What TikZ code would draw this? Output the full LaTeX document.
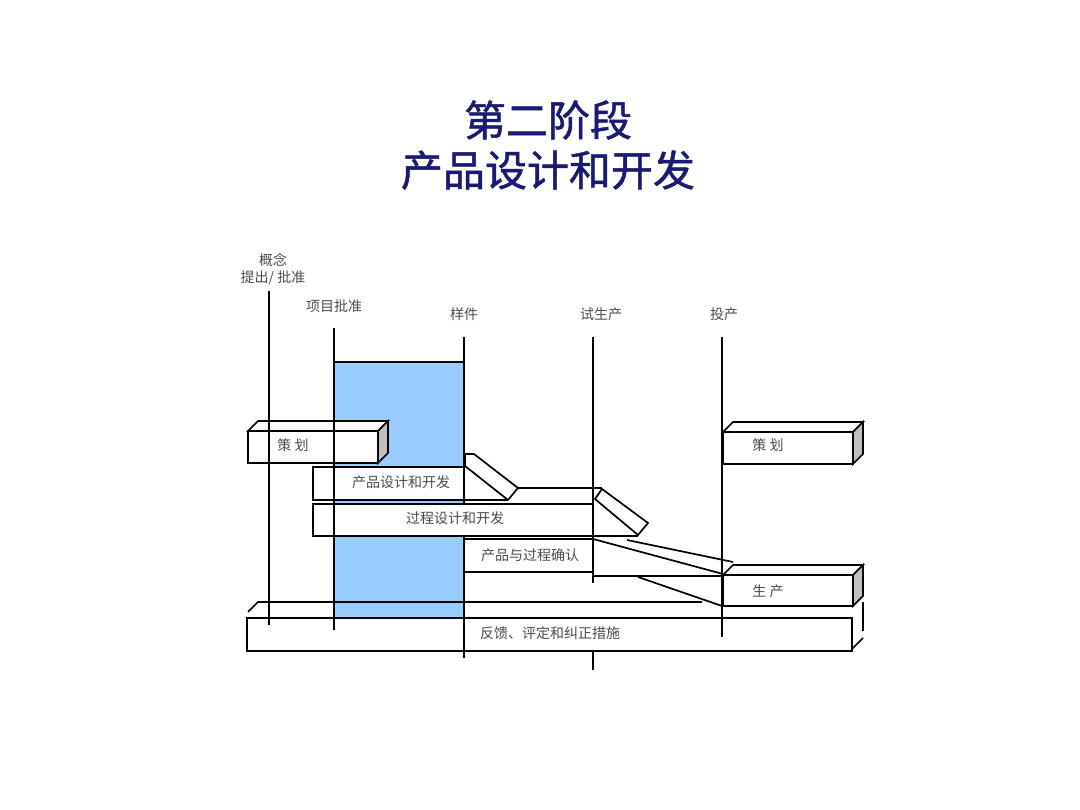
\documentclass[tikz,border=0pt]{standalone}
\usepackage{fontspec}
\newfontfamily\cjk{Noto Sans CJK SC}
\newfontfamily\cjktitle[FakeBold=1.2]{Noto Sans CJK SC}
\definecolor{titleblue}{RGB}{26,26,115}
\definecolor{lblgray}{RGB}{75,75,75}
\definecolor{paleblue}{RGB}{153,204,255}
\definecolor{sidegray}{RGB}{192,192,192}
\begin{document}
\begin{tikzpicture}[x=1pt,y=-1pt,
 vline/.style={line width=2.6pt, black},
 boxline/.style={line width=1.7pt, black, line join=miter},
 face/.style={boxline, fill=white},
 side/.style={boxline, fill=sidegray},
 lbl/.style={font=\cjk\fontsize{14}{16}\selectfont, text=lblgray, inner sep=0pt},
 ttl/.style={font=\cjktitle\fontsize{42}{50}\selectfont, text=titleblue, inner sep=0pt}]
\useasboundingbox[fill=white] (0,0) rectangle (1080,810);

% title
\node[ttl] (t1) at (548,120) {第二阶段};
\node[ttl] (t2) at (548,170) {产品设计和开发};

% blue phase band
\draw[line width=1.2pt, fill=paleblue] (334,362) rectangle (464,618);

% milestone labels
\node[lbl] (m1a) at (273,260) {概念};
\node[lbl] (m1b) at (273,278) {提出/ 批准};
\node[lbl] (m2) at (334,306) {项目批准};
\node[lbl] (m3) at (464,314) {样件};
\node[lbl] (m4) at (601,314) {试生产};
\node[lbl] (m5) at (724,314) {投产};

% left planning box (3D)
\draw[face] (248,431) rectangle (378,463);
\draw[face] (248,431) -- (258,421) -- (388,421) -- (378,431) -- cycle;
\draw[side] (378,431) -- (388,421) -- (388,453) -- (378,463) -- cycle;
\node[lbl] (p1) at (293,445) {策\ 划};

% right planning box (3D)
\draw[face] (723,432) rectangle (853,464);
\draw[face] (723,432) -- (733,422) -- (863,422) -- (853,432) -- cycle;
\draw[side] (853,432) -- (863,422) -- (863,454) -- (853,464) -- cycle;
\node[lbl] (p2) at (768,445) {策\ 划};

% production box (3D)
\draw[face] (723,575) rectangle (853,606);
\draw[face] (723,575) -- (733,565) -- (863,565) -- (853,575) -- cycle;
\draw[side] (853,575) -- (863,565) -- (863,596) -- (853,606) -- cycle;
\node[lbl] (pr) at (768,591) {生\ 产};

% product design box + ramp
\draw[face] (313,467) rectangle (464,500);
\node[lbl] (pd) at (401,482) {产品设计和开发};
\draw[face] (465,454) -- (474,454) -- (518,488) -- (508,500) -- (465,466) -- cycle;
\draw[boxline] (464,500) -- (508,500);
\draw[boxline] (518,488) -- (602,488);

% process design box + ramp
\draw[face] (313,504) rectangle (593,536);
\node[lbl] (pc) at (455,518) {过程设计和开发};
\draw[face] (595,499) -- (602,489) -- (648,523) -- (638,535) -- cycle;
\draw[boxline] (593,536) -- (638,536);

% validation box
\draw[face] (464,539) rectangle (593,572);
\node[lbl] (vd) at (530,555) {产品与过程确认};

% lines to production
\draw[boxline] (593,539) -- (723,574);
\draw[boxline] (627,540) -- (733,562);
\draw[boxline] (593,576) -- (723,576);
\draw[boxline] (638,577) -- (722,606);

% feedback box (partial 3D)
\draw[face] (247,618) rectangle (852,651);
\draw[boxline] (248,612) -- (258,602) -- (702,602);
\draw[boxline] (863,602) -- (863,631);
\draw[boxline] (852,649) -- (863,638);
\node[lbl] (fb) at (550,633) {反馈、评定和纠正措施};

% milestone vertical lines
\draw[vline] (269,291) -- (269,625);
\draw[vline] (334,328) -- (334,630);
\draw[vline] (464,337) -- (464,504);
\draw[vline] (464,536) -- (464,658);
\draw[vline] (593,337) -- (593,583);
\draw[vline] (593,651) -- (593,670);
\draw[vline] (722,337) -- (722,637);
\end{tikzpicture}
\end{document}
